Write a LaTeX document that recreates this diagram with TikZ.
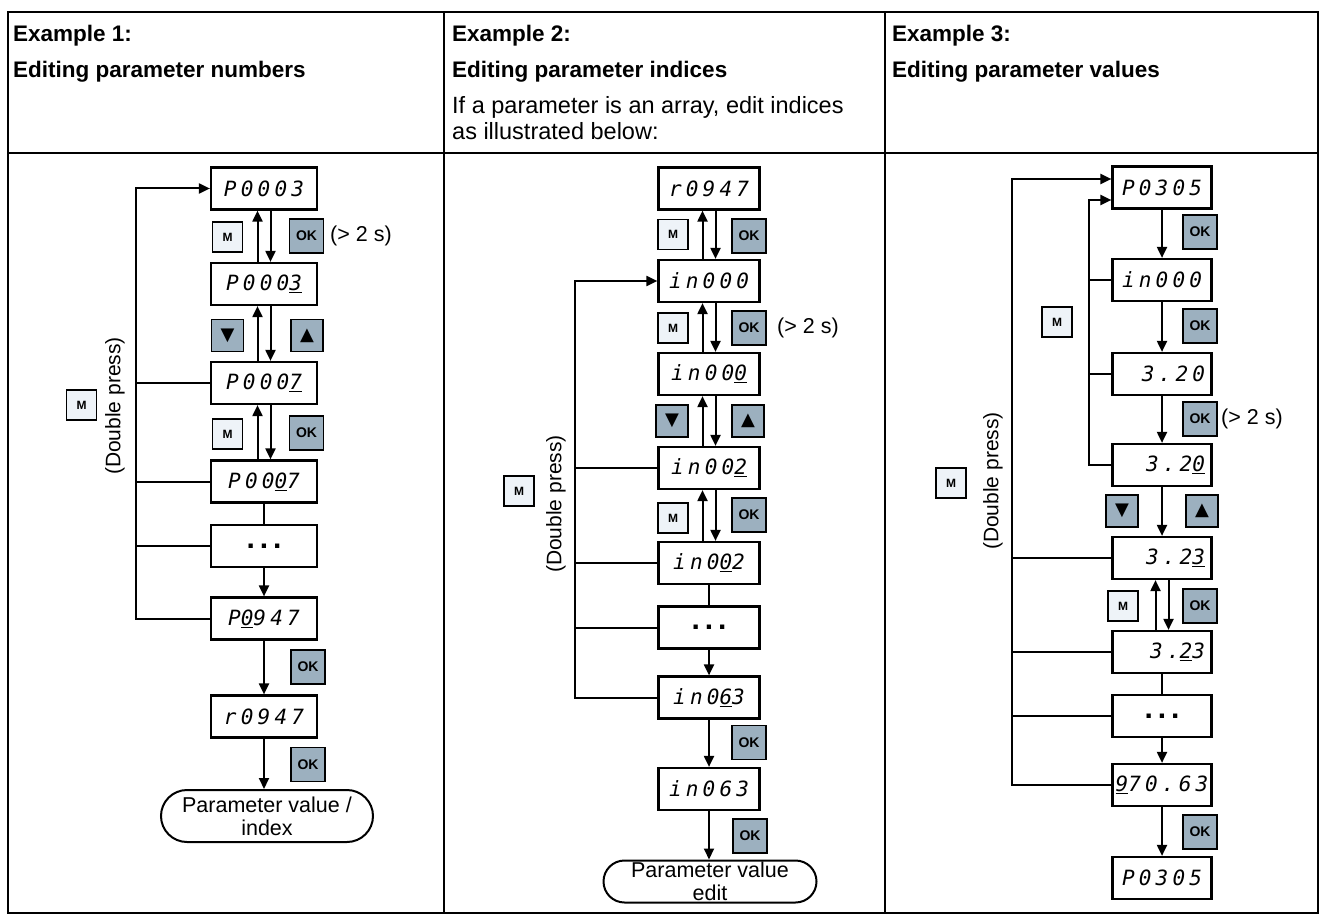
\documentclass[tikz,border=0pt]{standalone}
\usepackage{fontspec}
\setmainfont{Liberation Sans}
\newfontfamily\symfont{DejaVu Sans}
\newfontfamily\segfont[LetterSpace=20]{DejaVu Sans Mono}
\usetikzlibrary{arrows.meta,shapes.misc}
\definecolor{mfill}{RGB}{238,243,248}
\definecolor{okfill}{RGB}{156,176,191}
\tikzset{
 disp/.style={draw, line width=2.2pt, minimum height=42pt, inner sep=0pt, font=\segfont\fontsize{21}{21}\selectfont\itshape},
 dispa/.style={disp, minimum width=106pt},
 dispb/.style={disp, minimum width=101pt},
 dispc/.style={disp, minimum width=99pt},
 dispr/.style={disp, text width=86pt, align=right, inner xsep=6.5pt},
 dots/.style={font=\bfseries\fontsize{30}{30}\selectfont},
 mbtn/.style={draw, line width=1.8pt, fill=mfill, minimum width=30pt, minimum height=30pt, inner sep=0pt, font=\bfseries\fontsize{12}{12}\selectfont},
 okbtn/.style={draw, line width=1.8pt, fill=okfill, minimum width=34pt, minimum height=34pt, inner sep=0pt, font=\bfseries\fontsize{14}{14}\selectfont},
 arbtn/.style={okbtn, minimum width=32pt, minimum height=32pt, font=\symfont\fontsize{18}{18}\selectfont},
 term/.style={draw, line width=2pt, rounded rectangle, minimum height=52pt, inner sep=0pt, align=center, font=\fontsize{21.5}{23}\selectfont},
 ln/.style={line width=2pt},
 arr/.style={line width=2pt, -{Triangle[length=11pt,width=10pt]}},
 note/.style={font=\fontsize{21.5}{21.5}\selectfont, inner sep=0pt},
 hdr/.style={anchor=base west, inner sep=0pt, font=\bfseries\fontsize{22.5}{22.5}\selectfont},
 hdrtxt/.style={anchor=base west, inner sep=0pt, font=\fontsize{23.5}{23.5}\selectfont},
 dbl/.style={rotate=90, font=\fontsize{21}{21}\selectfont, inner sep=0pt},
 tbl/.style={line width=2pt},
}
\begin{document}
\begin{tikzpicture}[x=1pt,y=-1pt]
\useasboundingbox (0,0) rectangle (1322,917);
% table
\draw[tbl] (8,12) rectangle (1318,913);
\draw[tbl] (8,153) -- (1318,153);
\draw[tbl] (444,12) -- (444,913);
\draw[tbl] (885,12) -- (885,913);
% headers
\node[hdr] (h1a) at (13,42) {Example 1:};
\node[hdr] (h1b) at (13,78) {Editing parameter numbers};
\node[hdr] (h2a) at (452,42) {Example 2:};
\node[hdr] (h2b) at (452,78) {Editing parameter indices};
\node[hdrtxt] (h2c) at (452,114) {If a parameter is an array, edit indices};
\node[hdrtxt] (h2d) at (452,140) {as illustrated below:};
\node[hdr] (h3a) at (892,42) {Example 3:};
\node[hdr] (h3b) at (892,78) {Editing parameter values};

% ===== column 1 =====
\node[dispa] (a1) at (264,188.5) {P0003};
\node[dispa] (a2) at (264,284) {P000\underline{3}};
\node[dispa] (a3) at (264,383) {P000\underline{7}};
\node[dispa] (a4) at (264,481.5) {P00\underline{0}7};
\node[dispa,dots] (a5) at (264,546) {.\,.\,.};
\node[dispa] (a6) at (264,618.5) {P\underline{0}947};
\node[dispa] (a7) at (264,716.5) {r0947};
\node[term, minimum width=212pt] (a8) at (267,816) {Parameter value /\\index};
\node[mbtn] (am1) at (227.5,237) {M};
\node[okbtn] (aok1) at (306.5,236) {OK};
\node[note, anchor=west] (an1) at (330,236) {(> 2 s)};
\node[arbtn] (adn) at (227.5,335.5) {▼};
\node[arbtn] (aup) at (307,335.5) {▲};
\node[mbtn] (am2) at (227.5,434) {M};
\node[okbtn] (aok2) at (306.5,433) {OK};
\node[okbtn] (aok3) at (308,667) {OK};
\node[okbtn] (aok4) at (308,764.5) {OK};
\node[mbtn] (am0) at (81.5,405) {M};
\node[dbl] (ad) at (115,406) {(Double press)};
\coordinate (ax) at (136,0);
\foreach \u/\l in {a1/a2,a2/a3,a3/a4}{
  \draw[arr] ([xshift=-6.5pt]\l.north) -- ([xshift=-6.5pt]\u.south);
  \draw[arr] ([xshift=6.5pt]\u.south) -- ([xshift=6.5pt]\l.north);
}
\draw[ln] (a4) -- (a5);
\draw[arr] (a5) -- (a6);
\draw[arr] (a6) -- (a7);
\draw[arr] (a7) -- (a7 |- a8.north);
\draw[arr] (a6.west) -- (a6.west -| ax) |- (a1.west);
\foreach \n in {a3,a4,a5}{ \draw[ln] (\n.west) -- (\n.west -| ax); }

% ===== column 2 =====
\node[dispb] (b1) at (709,188.5) {r0947};
\node[dispb] (b2) at (709,281) {in000};
\node[dispb] (b3) at (709,374) {in00\underline{0}};
\node[dispb] (b4) at (709,468) {in00\underline{2}};
\node[dispb] (b5) at (709,563) {in0\underline{0}2};
\node[dispb,dots] (b6) at (709,627.5) {.\,.\,.};
\node[dispb] (b7) at (709,697.5) {in0\underline{6}3};
\node[dispb] (b8) at (709,789) {in063};
\node[term, minimum width=213pt, minimum height=42pt] (b9) at (710,881.5) {Parameter value\\edit};
\node[mbtn] (bm1) at (673,234.5) {M};
\node[okbtn] (bok1) at (749,236) {OK};
\node[mbtn] (bm2) at (673,328) {M};
\node[okbtn] (bok2) at (749,328) {OK};
\node[note, anchor=west] (bn2) at (777,328) {(> 2 s)};
\node[arbtn] (bdn) at (672,421) {▼};
\node[arbtn] (bup) at (748,421) {▲};
\node[mbtn] (bm3) at (673,518) {M};
\node[okbtn] (bok3) at (749,515) {OK};
\node[okbtn] (bok4) at (749,742.5) {OK};
\node[okbtn] (bok5) at (750,836) {OK};
\node[mbtn] (bm0) at (519,491) {M};
\node[dbl] (bd) at (556,504) {(Double press)};
\coordinate (bx) at (575,0);
\foreach \u/\l in {b1/b2,b2/b3,b3/b4,b4/b5}{
  \draw[arr] ([xshift=-6.5pt]\l.north) -- ([xshift=-6.5pt]\u.south);
  \draw[arr] ([xshift=6.5pt]\u.south) -- ([xshift=6.5pt]\l.north);
}
\draw[ln] (b5) -- (b6);
\draw[arr] (b6) -- (b7);
\draw[arr] (b7) -- (b8);
\draw[arr] (b8) -- (b8 |- b9.north);
\draw[arr] (b7.west) -- (b7.west -| bx) |- (b2.west);
\foreach \n in {b4,b5,b6}{ \draw[ln] (\n.west) -- (\n.west -| bx); }

% ===== column 3 =====
\node[dispc] (c1) at (1162,187.5) {P0305};
\node[dispc] (c2) at (1162,280) {in000};
\node[dispr] (c3) at (1162,374) {3.20};
\node[dispr] (c4) at (1162,465) {3.2\underline{0}};
\node[dispr] (c5) at (1162,558) {3.2\underline{3}};
\node[dispr] (c6) at (1162,652) {3.\underline{2}3};
\node[dispc,dots] (c7) at (1162,716) {.\,.\,.};
\node[dispc] (c8) at (1162,785) {\underline{9}70.63};
\node[dispc] (c9) at (1162,878) {P0305};
\node[okbtn] (cok1) at (1200,232) {OK};
\node[okbtn] (cok2) at (1200,326) {OK};
\node[okbtn] (cok3) at (1200,419) {OK};
\node[note, anchor=west] (cn3) at (1221,419) {(> 2 s)};
\node[arbtn] (cdn) at (1122,511) {▼};
\node[arbtn] (cup) at (1202,511) {▲};
\node[mbtn] (cm1) at (1123,606) {M};
\node[okbtn] (cok4) at (1200,606) {OK};
\node[okbtn] (cok5) at (1200,832) {OK};
\node[mbtn] (cmi) at (1057,322) {M};
\node[mbtn] (cm0) at (951,483) {M};
\node[dbl] (cd) at (993,481) {(Double press)};
\coordinate (cx) at (1012,0);
\coordinate (cy) at (1089,0);
\draw[arr] (c1) -- (c2);
\draw[arr] (c2) -- (c3);
\draw[arr] (c3) -- (c4);
\draw[arr] (c4) -- (c5);
\draw[arr] ([xshift=-6.5pt]c6.north) -- ([xshift=-6.5pt]c5.south);
\draw[arr] ([xshift=6.5pt]c5.south) -- ([xshift=6.5pt]c6.north);
\draw[ln] (c6) -- (c7);
\draw[arr] (c7) -- (c8);
\draw[arr] (c8) -- (c9);
\draw[arr] (c4.west) -- (c4.west -| cy) |- ([yshift=-12.5pt]c1.west);
\foreach \n in {c2,c3}{ \draw[ln] (\n.west) -- (\n.west -| cy); }
\draw[arr] (c8.west) -- (c8.west -| cx) |- ([yshift=8.5pt]c1.west);
\foreach \n in {c5,c6,c7}{ \draw[ln] (\n.west) -- (\n.west -| cx); }
\end{tikzpicture}
\end{document}
